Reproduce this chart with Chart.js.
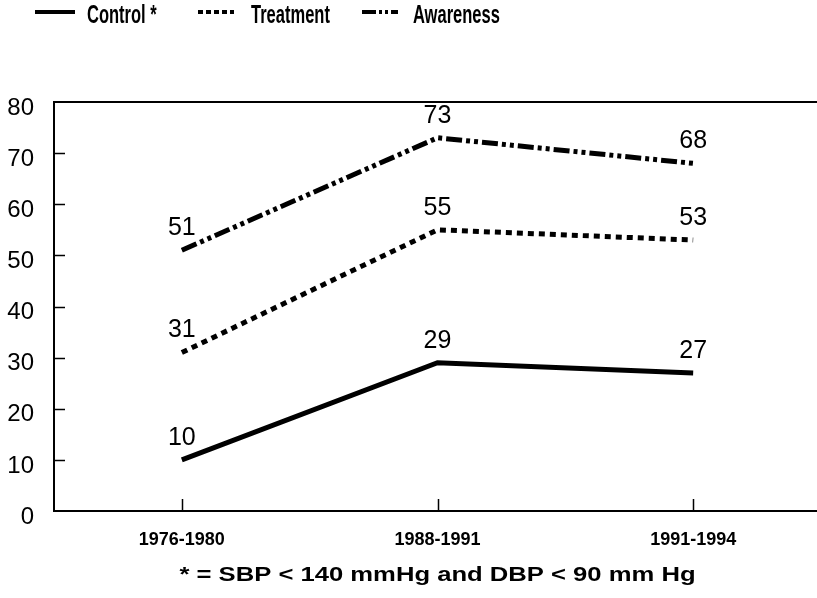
<!DOCTYPE html>
<html>
<head>
<meta charset="utf-8">
<script src="https://cdn.jsdelivr.net/npm/chart.js@4.4.1/dist/chart.umd.min.js"></script>
<style>
    html, body { margin: 0; padding: 0; background: #fff; overflow: hidden; }
    #wrap { width: 821px; height: 598px; }
</style>
</head>
<body>
<div id="wrap"><canvas id="trendChart"></canvas></div>
<script>
// Hypertension control / treatment / awareness (%) by survey period
const periods = ['1976-1980', '1988-1991', '1991-1994'];
const controlRates = [10, 29, 27];
const treatmentRates = [31, 55, 53];
const awarenessRates = [51, 73, 68];
const yMin = 0;
const yMax = 80;
const yStep = 10;
const footnote = '* = SBP < 140 mmHg and DBP < 90 mm Hg';

const INK = '#000';
const SANS = '"Liberation Sans", Arial, Helvetica, sans-serif';

// Legend drawn at the top; narrow bold type is imitated by squeezing the text
const legendSpots = [
    { from: 35, to: 75, textX: 87, dash: [] },
    { from: 198, to: 234, textX: 251, dash: [5, 3] },
    { from: 362, to: 398, textX: 413, dash: [14, 3, 3, 3, 3, 3] },
];

function squeezedText(ctx, text, x, y, sx, font, align) {
    ctx.save();
    ctx.translate(x, y);
    ctx.scale(sx, 1);
    ctx.fillStyle = INK;
    ctx.font = font;
    ctx.textBaseline = 'middle';
    ctx.textAlign = align;
    ctx.fillText(text, 0, 0);
    ctx.restore();
}

const topLegend = {
    id: 'topLegend',
    afterDraw(chart) {
        const { ctx } = chart;
        ctx.save();
        chart.data.datasets.forEach((ds, i) => {
            const spot = legendSpots[i];
            ctx.strokeStyle = ds.borderColor;
            ctx.lineWidth = 4;
            ctx.setLineDash(spot.dash);
            ctx.beginPath();
            ctx.moveTo(spot.from, 12);
            ctx.lineTo(spot.to, 12);
            ctx.stroke();
            ctx.setLineDash([]);
            squeezedText(ctx, ds.label, spot.textX, 16, 0.635, `bold 26px ${SANS}`, 'left');
        });
        ctx.restore();
    },
};

// Footnote under the x axis (the scan's type is a little wider than Arial)
const footnoteText = {
    id: 'footnoteText',
    afterDraw(chart) {
        const x = chart.scales.x;
        squeezedText(chart.ctx, footnote, (x.left + x.right) / 2, 575, 1.22, `bold 21px ${SANS}`, 'center');
    },
};

// Value labels above each point
const valueLabels = {
    id: 'valueLabels',
    afterDatasetsDraw(chart) {
        const { ctx } = chart;
        ctx.save();
        ctx.fillStyle = INK;
        ctx.font = `25px ${SANS}`;
        ctx.textAlign = 'center';
        ctx.textBaseline = 'middle';
        chart.data.datasets.forEach((ds, i) => {
            chart.getDatasetMeta(i).data.forEach((pt, j) => {
                ctx.fillText(String(ds.data[j]), pt.x, pt.y - 22);
            });
        });
        ctx.restore();
    },
};

// Top rule at the axis maximum plus short tick marks pointing into the plot
const frameAndTicks = {
    id: 'frameAndTicks',
    afterDraw(chart) {
        const { ctx, chartArea } = chart;
        const x = chart.scales.x;
        const y = chart.scales.y;
        ctx.save();
        ctx.strokeStyle = INK;

        ctx.lineWidth = 2;
        ctx.beginPath();
        const top = Math.round(y.getPixelForValue(yMax));
        ctx.moveTo(chartArea.left, top);
        ctx.lineTo(chart.width, top);
        ctx.stroke();

        ctx.lineWidth = 1.5;
        ctx.beginPath();
        y.ticks.forEach((t) => {
            if (t.value === yMin || t.value === yMax) return;
            const py = Math.round(y.getPixelForValue(t.value)) + 0.5;
            ctx.moveTo(chartArea.left, py);
            ctx.lineTo(chartArea.left + 11, py);
        });
        periods.forEach((p, i) => {
            const px = Math.round(x.getPixelForValue(i)) + 0.5;
            ctx.moveTo(px, chartArea.bottom);
            ctx.lineTo(px, chartArea.bottom - 12);
        });
        ctx.stroke();
        ctx.restore();
    },
};

const lineStyle = {
    borderColor: INK,
    borderWidth: 5,
    borderCapStyle: 'butt',
    pointRadius: 0,
    pointHoverRadius: 0,
    tension: 0,
    fill: false,
};

new Chart(document.getElementById('trendChart'), {
    type: 'line',
    data: {
        labels: periods,
        datasets: [
            { ...lineStyle, label: 'Control *', data: controlRates, borderDash: [] },
            { ...lineStyle, label: 'Treatment', data: treatmentRates, borderDash: [6, 5] },
            { ...lineStyle, label: 'Awareness', data: awarenessRates, borderDash: [16, 4, 4, 4, 4, 4] },
        ],
    },
    options: {
        responsive: true,
        maintainAspectRatio: false,
        animation: false,
        layout: {
            padding: { top: 102, left: 0, right: 0, bottom: 0 },
        },
        plugins: {
            legend: { display: false },
            tooltip: { enabled: false },
        },
        scales: {
            x: {
                offset: true,
                afterFit: (scale) => { scale.height = 87; },
                border: { display: true, color: INK, width: 2 },
                grid: { display: false },
                ticks: {
                    color: INK,
                    padding: 10,
                    maxRotation: 0,
                    font: { family: SANS, size: 18, weight: 'bold' },
                },
            },
            y: {
                min: yMin,
                max: yMax,
                afterFit: (scale) => { scale.width = 54; },
                border: { display: true, color: INK, width: 2 },
                grid: { display: false, drawTicks: false },
                ticks: {
                    stepSize: yStep,
                    color: INK,
                    padding: 20,
                    labelOffset: 6,
                    font: { family: SANS, size: 24 },
                },
            },
        },
    },
    plugins: [topLegend, footnoteText, valueLabels, frameAndTicks],
});
</script>
</body>
</html>
